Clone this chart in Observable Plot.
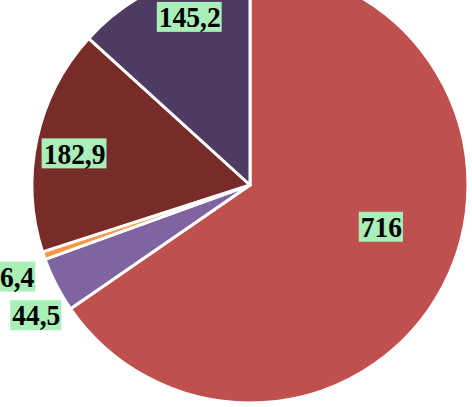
<!DOCTYPE html>
<html><head><meta charset="utf-8">
<script src="https://cdn.jsdelivr.net/npm/d3@7"></script>
<script src="https://cdn.jsdelivr.net/npm/@observablehq/plot@0.6"></script>
<style>html,body{margin:0;padding:0;background:#fff;overflow:hidden}</style>
</head><body><div id="chart"></div>
<script>
// Data (clockwise from 12 o'clock)
const slices = ["s1", "s2", "s3", "s4", "s5"];
const values = [716, 44.5, 6.4, 182.9, 145.2];
const labels = ["716", "44,5", "6,4", "182,9", "145,2"];
const colors = ["#c0504d", "#8064a2", "#f79646", "#772c2a", "#4f3b62"];
// Label layout: radial fraction and angular shift (degrees)
const labelRadius = [0.63, 1.15, 1.15, 0.82, 0.82];
const labelShift = [-10, -4, -2.5, -2, 4];

const W = 472, H = 407, R = 218, CX = 250, CY = 185;
const FS = 27.5;
const FONT = `bold ${FS}px 'Liberation Serif'`;
const boxFill = "#aaeeb8";

const arcs = d3.pie().sort(null).value(d => d)(values);
const labelData = arcs.map((a, i) => {
  const ang = (a.startAngle + a.endAngle) / 2 + labelShift[i] * Math.PI / 180;
  const r = labelRadius[i];
  return {slice: slices[i], label: labels[i], x: r * Math.sin(ang), y: r * Math.cos(ang)};
});

const ctx = document.createElement("canvas").getContext("2d");
ctx.font = FONT;

function arcMark(index, scales) {
  const cx = scales.x(0), cy = scales.y(0), r = scales.x(1) - scales.x(0);
  const g = d3.create("svg:g").attr("transform", `translate(${cx},${cy})`);
  const arc = d3.arc().innerRadius(0).outerRadius(r);
  g.selectAll("path").data(arcs).join("path")
    .attr("d", arc)
    .attr("fill", (d, i) => colors[i])
    .attr("stroke", "#fff")
    .attr("stroke-width", 3)
    .attr("stroke-linejoin", "round");
  return g.node();
}

function boxMark(index, scales) {
  const g = d3.create("svg:g");
  g.selectAll("rect").data(labelData).join("rect")
    .attr("x", d => scales.x(d.x) - (ctx.measureText(d.label).width + 3) / 2)
    .attr("y", d => scales.y(d.y) - 15)
    .attr("width", d => ctx.measureText(d.label).width + 3)
    .attr("height", 30)
    .attr("fill", boxFill);
  return g.node();
}

const chart = Plot.plot({
  width: W, height: H,
  margin: 0,
  style: {background: "#fff", overflow: "hidden"},
  x: {domain: [-CX / R, (W - CX) / R], range: [0, W], axis: null},
  y: {domain: [-(H - CY) / R, CY / R], range: [H, 0], axis: null},
  marks: [
    arcMark,
    boxMark,
    Plot.text(labelData, {
      x: "x", y: "y", text: "label",
      fontSize: FS, fontWeight: "bold", fontFamily: "Liberation Serif",
      fill: "#000"
    })
  ]
});
// stretch label glyphs vertically to match the tall serif look
d3.select(chart).selectAll("g[aria-label=text] text").each(function() {
  const t = this.getAttribute("transform") || "";
  this.setAttribute("transform", t + " scale(1,1.1)");
});
document.getElementById("chart").append(chart);
</script>
</body></html>
